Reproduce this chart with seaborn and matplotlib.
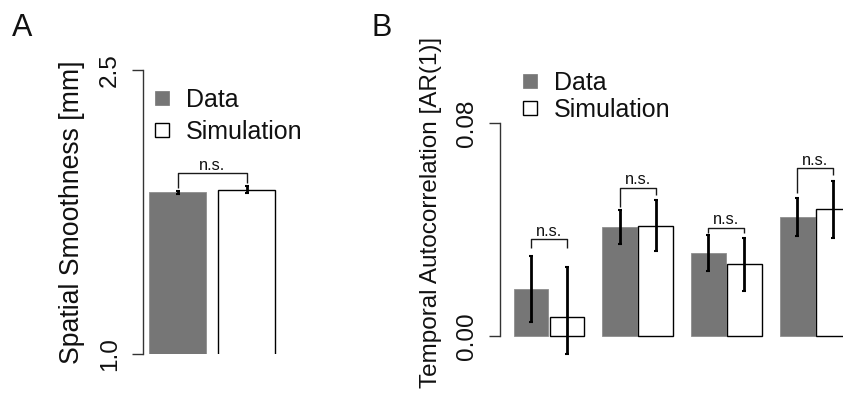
import matplotlib
matplotlib.use("Agg")
import matplotlib.pyplot as plt
import matplotlib.patches as mpatches
import seaborn as sns
import pandas as pd

# ---------------- Panel A data ----------------
a_conditions = ["Data", "Simulation"]
a_means = [1.855, 1.866]
a_low = [1.845, 1.848]
a_high = [1.862, 1.887]
a_bracket_top = 1.956
a_bracket_left = 1.877
a_bracket_right = 1.902
a_yticks = [1.0, 2.5]
a_yticklabels = ["1.0", "2.5"]
a_ylabel = "Spatial Smoothness [mm]"

# ---------------- Panel B data ----------------
b_groups = ["1", "2", "3", "4"]
b_data_means = [0.0177, 0.0409, 0.0312, 0.0447]
b_data_low = [0.0053, 0.0346, 0.0244, 0.0376]
b_data_high = [0.0300, 0.0473, 0.0379, 0.0518]
b_sim_means = [0.0071, 0.0413, 0.0270, 0.0477]
b_sim_low = [-0.0068, 0.0319, 0.0169, 0.0368]
b_sim_high = [0.0259, 0.0511, 0.0368, 0.0582]
b_bracket_top = [0.0364, 0.0556, 0.0406, 0.0631]
b_bracket_left = [0.0331, 0.0485, 0.0387, 0.0537]
b_bracket_right = [0.0331, 0.0530, 0.0387, 0.0605]
b_yticks = [0.0, 0.08]
b_yticklabels = ["0.00", "0.08"]
b_ylabel = "Temporal Autocorrelation [AR(1)]"
sig_label = "n.s."
panel_labels = ["A", "B"]

# ---------------- style ----------------
sns.set_style("white")
plt.rcParams["font.family"] = ["Liberation Sans", "DejaVu Sans"]
FS = 17.5
LEG_FS = 18
DATA_COL = "#767676"
palette = {"Data": DATA_COL, "Simulation": "white"}

W, H = 843, 398
fig = plt.figure(figsize=(W / 100, H / 100), dpi=100)


def frac(left, right, top, bottom):
    return [left / W, 1 - bottom / H, (right - left) / W, (bottom - top) / H]


axA = fig.add_axes(frac(143, 281, 70, 354))
axB = fig.add_axes(frac(500, 843, 69.75, 367.95))


def style_bars(ax):
    for p in ax.patches:
        fc = p.get_facecolor()
        if fc[0] > 0.9:
            p.set_edgecolor("black")
            p.set_linewidth(1.0)
        else:
            p.set_edgecolor("#8e8e8e")
            p.set_linewidth(0.6)


def style_axis(ax, ticks, labels, lo, hi):
    sns.despine(ax=ax, bottom=True)
    ax.spines["left"].set_bounds(ticks[0], ticks[-1])
    ax.spines["left"].set_color("#333333")
    ax.spines["left"].set_linewidth(1.0)
    ax.set_yticks(ticks)
    ax.set_yticklabels(labels)
    ax.set_ylim(lo, hi)
    ax.set_xticks([])
    ax.set_xlabel("")
    ax.tick_params(axis="y", left=True, length=8, width=1.0, color="#333333",
                   pad=8, labelsize=FS, labelrotation=90, labelcolor="#111111")
    for t in ax.get_yticklabels():
        t.set_va("center")


def bracket(ax, x0, x1, y_top, y_left, y_right):
    ax.plot([x0, x0, x1, x1], [y_left, y_top, y_top, y_right],
            color="#1a1a1a", lw=1.0, solid_capstyle="butt")
    ax.annotate(sig_label, xy=((x0 + x1) / 2, y_top), xytext=(0, 2.5),
                textcoords="offset points", ha="center", va="baseline",
                fontsize=11.8, color="#111111")


def legend(ax, anchor_px, spacing):
    handles = [mpatches.Patch(facecolor=DATA_COL, edgecolor=DATA_COL, linewidth=0.5),
               mpatches.Patch(facecolor="white", edgecolor="black", linewidth=1.0)]
    leg = ax.legend(handles, a_conditions, loc="upper left",
                    bbox_to_anchor=(anchor_px[0] / W, 1 - anchor_px[1] / H),
                    bbox_transform=fig.transFigure, frameon=False, fontsize=LEG_FS,
                    handlelength=0.56, handleheight=0.48, handletextpad=0.66,
                    borderpad=0, borderaxespad=0, labelspacing=spacing)
    for t in leg.get_texts():
        t.set_color("#111111")


# ---------------- Panel A ----------------
dfA = pd.DataFrame({"condition": a_conditions, "value": a_means})
sns.barplot(data=dfA, x="condition", y="value", hue="condition",
            hue_order=a_conditions, palette=palette, width=0.84,
            errorbar=None, legend=False, ax=axA)
style_bars(axA)
xA = [p.get_x() + p.get_width() / 2 for p in axA.patches]
axA.errorbar(xA, a_means,
             yerr=[[m - l for m, l in zip(a_means, a_low)],
                   [h - m for m, h in zip(a_means, a_high)]],
             fmt="none", ecolor="black", elinewidth=2.0, capsize=1.2, capthick=1.5)
bracket(axA, xA[0], xA[1], a_bracket_top, a_bracket_left, a_bracket_right)
style_axis(axA, a_yticks, a_yticklabels, 1.0, 2.5)
axA.set_xlim(-0.5, 1.5)
axA.set_ylabel(a_ylabel, fontsize=19.2, color="#111111")
axA.yaxis.set_label_coords(72.5 / W, 1 - 212.5 / H, transform=fig.transFigure)
axA.yaxis.label.set_va("center")
legend(axA, (155, 88), 0.32)

# ---------------- Panel B ----------------
dfB = pd.DataFrame({
    "group": b_groups * 2,
    "condition": ["Data"] * len(b_groups) + ["Simulation"] * len(b_groups),
    "value": b_data_means + b_sim_means,
})
sns.barplot(data=dfB, x="group", y="value", hue="condition",
            hue_order=a_conditions, palette=palette, width=0.812, gap=0.03,
            errorbar=None, legend=False, ax=axB)
style_bars(axB)
cont_data, cont_sim = axB.containers[0], axB.containers[1]
xd = [p.get_x() + p.get_width() / 2 for p in cont_data]
xs = [p.get_x() + p.get_width() / 2 for p in cont_sim]
axB.errorbar(xd, b_data_means,
             yerr=[[m - l for m, l in zip(b_data_means, b_data_low)],
                   [h - m for m, h in zip(b_data_means, b_data_high)]],
             fmt="none", ecolor="black", elinewidth=2.0, capsize=1.2, capthick=1.5)
axB.errorbar(xs, b_sim_means,
             yerr=[[m - l for m, l in zip(b_sim_means, b_sim_low)],
                   [h - m for m, h in zip(b_sim_means, b_sim_high)]],
             fmt="none", ecolor="black", elinewidth=2.0, capsize=1.2, capthick=1.5)
for i in range(len(b_groups)):
    bracket(axB, xd[i], xs[i], b_bracket_top[i], b_bracket_left[i], b_bracket_right[i])
style_axis(axB, b_yticks, b_yticklabels, -0.012, 0.1)
axB.set_xlim(-0.5524, 3.3145)
axB.set_ylabel(b_ylabel, fontsize=FS, color="#111111")
axB.yaxis.set_label_coords(431 / W, 1 - 212.5 / H, transform=fig.transFigure)
axB.yaxis.label.set_va("center")
legend(axB, (523, 71), 0.12)

# ---------------- Panel letters ----------------
fig.text(12 / W, 1 - 36 / H, panel_labels[0], fontsize=22, ha="left", va="baseline",
         color="#111111")
fig.text(371 / W, 1 - 36 / H, panel_labels[1], fontsize=22, ha="left", va="baseline",
         color="#111111")

fig.savefig("out.png", dpi=100)
